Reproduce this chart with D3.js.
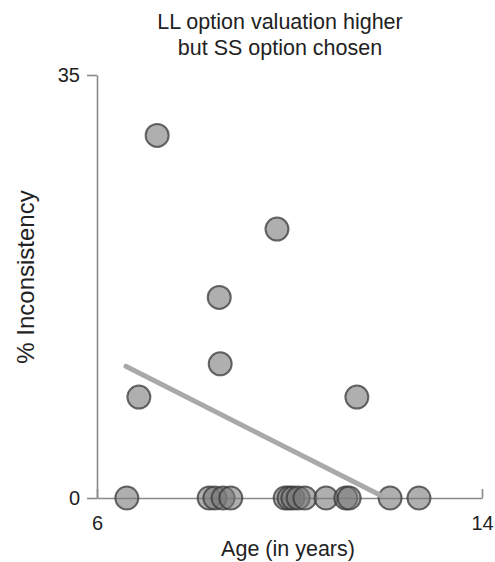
<!DOCTYPE html>
<html>
<head>
<meta charset="utf-8">
<script src="https://cdn.jsdelivr.net/npm/d3@7"></script>
<style>
  body { margin: 0; background: #fff; }
  text { font-family: "Liberation Sans", Arial, sans-serif; fill: #222; }
</style>
</head>
<body>
<svg id="chart"></svg>
<script>
// data
var ages = [7.25, 9.74, 8.54, 8.56, 6.87, 11.4,
  6.62, 8.33, 8.45, 8.62, 8.78, 9.91, 9.99, 10.07, 10.18, 10.32, 10.76, 11.17, 11.24, 12.09, 12.69];
var inconsistency = [30.0, 22.25, 16.6, 11.1, 8.35, 8.35,
  0, 0, 0, 0, 0, 0, 0, 0, 0, 0, 0, 0, 0, 0, 0];
var trendAges = [6.6, 11.9];
var trendValues = [10.9, 0.2];
var xTicks = [6, 14];
var yTicks = [0, 35];
var titleLines = ["LL option valuation higher", "but SS option chosen"];

var width = 495, height = 562;
var margin = { top: 75, right: 13, bottom: 64, left: 97 };

var svg = d3.select("#chart")
  .attr("width", width)
  .attr("height", height);

var x = d3.scaleLinear()
  .domain([6, 14])
  .range([margin.left, width - margin.right]);
var y = d3.scaleLinear()
  .domain([0, 35])
  .range([height - margin.bottom, margin.top]);

// title
svg.append("text")
  .attr("x", 280)
  .attr("y", 29)
  .style("text-anchor", "middle")
  .style("font-size", "21.5px")
  .selectAll("tspan")
  .data(titleLines)
  .join("tspan")
  .attr("x", 280)
  .attr("dy", function (d, i) { return i === 0 ? 0 : 26; })
  .text(function (d) { return d; });

// X axis
var xAxis = svg.append("g")
  .attr("transform", "translate(0," + y(0) + ")")
  .call(d3.axisBottom(x).tickValues(xTicks).tickSize(-9).tickSizeOuter(0).tickPadding(18));
xAxis.selectAll("text").style("font-size", "20px").attr("fill", "#222");

svg.append("text")
  .attr("x", 288)
  .attr("y", 556)
  .style("text-anchor", "middle")
  .style("font-size", "21.5px")
  .text("Age (in years)");

// Y axis
var yAxis = svg.append("g")
  .attr("transform", "translate(" + x(6) + ",0)")
  .call(d3.axisLeft(y).tickValues(yTicks).tickSize(10).tickSizeOuter(0).tickPadding(7));
yAxis.selectAll("text").style("font-size", "20px").attr("fill", "#222");

svg.selectAll(".domain, .tick line")
  .attr("stroke", "#8a8a8a")
  .attr("stroke-width", 1.6);

svg.append("text")
  .attr("transform", "translate(34," + 277 + ") rotate(-90)")
  .style("text-anchor", "middle")
  .style("font-size", "24px")
  .text("% Inconsistency");

// points
svg.selectAll("circle")
  .data(ages)
  .join("circle")
  .attr("cx", function (d) { return x(d); })
  .attr("cy", function (d, i) { return y(inconsistency[i]); })
  .attr("r", 11.5)
  .attr("fill", "#7a7a7a")
  .attr("fill-opacity", 0.6)
  .attr("stroke", "#3a3a3a")
  .attr("stroke-opacity", 0.75)
  .attr("stroke-width", 2);

// trend line
svg.append("path")
  .datum(trendAges)
  .attr("fill", "none")
  .attr("stroke", "#a9a9a9")
  .attr("stroke-width", 5)
  .attr("stroke-linecap", "round")
  .attr("d", d3.line()
    .x(function (d) { return x(d); })
    .y(function (d, i) { return y(trendValues[i]); }));
</script>
</body>
</html>
